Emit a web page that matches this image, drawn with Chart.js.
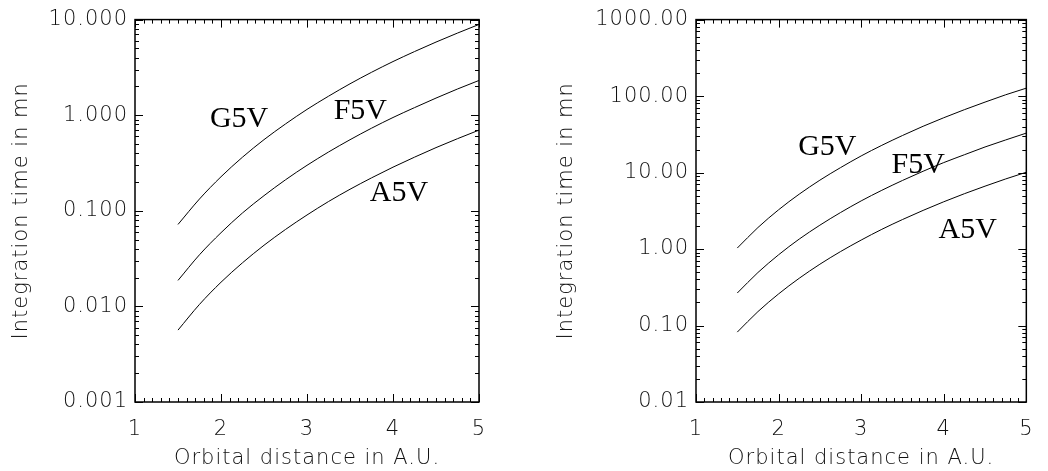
<!DOCTYPE html>
<html>
<head>
<meta charset="utf-8">
<script src="https://cdn.jsdelivr.net/npm/chart.js@4/dist/chart.umd.min.js"></script>
<style>
  html, body { margin: 0; padding: 0; background: #fff; }
  #wrap { position: relative; width: 1048px; height: 471px; }
  .panel { position: absolute; top: 0; height: 471px; }
  #leftBox { left: 0; width: 520px; }
  #rightBox { left: 520px; width: 528px; }
</style>
</head>
<body>
<div id="wrap">
  <div class="panel" id="leftBox"><canvas id="leftChart"></canvas></div>
  <div class="panel" id="rightBox"><canvas id="rightChart"></canvas></div>
</div>
<script>
// orbital distance (A.U.)
const distances = [1.5, 1.75, 2, 2.25, 2.5, 2.75, 3, 3.25, 3.5, 3.75, 4, 4.25, 4.5, 4.75, 5];

// left panel, integration time in mn
const leftG5V = [0.072, 0.133, 0.227, 0.364, 0.555, 0.81, 1.15, 1.58, 2.13, 2.81, 3.64, 4.63, 5.82, 7.23, 8.9];
const leftF5V = [0.0187, 0.0347, 0.059, 0.095, 0.144, 0.211, 0.299, 0.412, 0.554, 0.731, 0.946, 1.2, 1.51, 1.88, 2.31];
const leftA5V = [0.00565, 0.0105, 0.0179, 0.0286, 0.0436, 0.0638, 0.0904, 0.125, 0.168, 0.221, 0.286, 0.364, 0.458, 0.568, 0.698];

// right panel, integration time in mn
const rightG5V = [1.03, 1.91, 3.26, 5.22, 7.95, 11.6, 16.5, 22.7, 30.5, 40.3, 52.1, 66.4, 83.4, 104, 127];
const rightF5V = [0.266, 0.493, 0.841, 1.35, 2.05, 3.0, 4.26, 5.86, 7.88, 10.4, 13.5, 17.1, 21.6, 26.7, 32.8];
const rightA5V = [0.082, 0.152, 0.259, 0.415, 0.633, 0.926, 1.31, 1.81, 2.43, 3.2, 4.15, 5.29, 6.64, 8.25, 10.1];

// tick values
const xTicks = [1, 2, 3, 4, 5];
const leftYTicks = [0.001, 0.01, 0.1, 1, 10];
const rightYTicks = [0.01, 0.1, 1, 10, 100, 1000];

// curve labels and where they sit (data coords, centre of the text)
const starNames = ['G5V', 'F5V', 'A5V'];
const leftLabelX = [2.21, 3.62, 4.07];
const leftLabelY = [0.87, 1.05, 0.146];
const rightLabelX = [2.59, 3.69, 4.29];
const rightLabelY = [20.1, 11.9, 1.66];

const TEXT_COLOR = '#111';
const SANS = "'DejaVu Sans', sans-serif";

const frameAndTicks = {
    id: 'frameAndTicks',
    beforeDraw(chart) {
        chart.ctx.letterSpacing = '1px';
    },
    afterDraw(chart) {
        const ctx = chart.ctx;
        const area = chart.chartArea;
        const xs = chart.scales.x;
        const ys = chart.scales.y;
        ctx.save();
        ctx.letterSpacing = '0px';
        ctx.strokeStyle = '#000';
        ctx.lineWidth = 1;
        ctx.beginPath();
        // x ticks every 0.1, major at integers
        for (let i = 10; i <= 50; i++) {
            const px = Math.round(xs.getPixelForValue(i / 10)) + 0.5;
            const len = (i % 10 === 0) ? 8 : 4;
            ctx.moveTo(px, area.bottom);
            ctx.lineTo(px, area.bottom - len);
            ctx.moveTo(px, area.top);
            ctx.lineTo(px, area.top + len);
        }
        // y ticks, decades + minor 2..9
        const lo = Math.round(Math.log10(ys.min));
        const hi = Math.round(Math.log10(ys.max));
        for (let d = lo; d <= hi; d++) {
            for (let m = 1; m <= 9; m++) {
                const v = m * Math.pow(10, d);
                if (v > ys.max * 1.0001) break;
                const py = Math.round(ys.getPixelForValue(v)) + 0.5;
                const len = (m === 1) ? 8 : 4;
                ctx.moveTo(area.left, py);
                ctx.lineTo(area.left + len, py);
                ctx.moveTo(area.right, py);
                ctx.lineTo(area.right - len, py);
            }
        }
        ctx.stroke();
        ctx.lineWidth = 1.5;
        ctx.strokeRect(area.left, area.top, area.right - area.left, area.bottom - area.top);

        // star type labels
        const pos = chart.options.plugins.frameAndTicks;
        ctx.fillStyle = '#000';
        ctx.font = "30px 'Liberation Serif', 'Times New Roman', serif";
        ctx.textAlign = 'center';
        ctx.textBaseline = 'alphabetic';
        starNames.forEach((name, i) => {
            ctx.fillText(name, xs.getPixelForValue(pos.lx[i]), ys.getPixelForValue(pos.ly[i]) + 6);
        });
        ctx.restore();
    }
};

function makeChart(canvasId, g5v, f5v, a5v, yMin, yMax, yTickVals, digits, yWidth, rightPad, titlePad, lx, ly) {
    const series = [g5v, f5v, a5v];
    const ctx = document.getElementById(canvasId);
    return new Chart(ctx, {
        type: 'line',
        data: {
            datasets: series.map((vals, k) => ({
                label: starNames[k],
                data: distances.map((d, i) => ({ x: d, y: vals[i] })),
                borderColor: '#000',
                borderWidth: 1,
                pointRadius: 0,
                fill: false,
                cubicInterpolationMode: 'monotone'
            }))
        },
        options: {
            responsive: true,
            maintainAspectRatio: false,
            animation: false,
            devicePixelRatio: 1,
            layout: { padding: { top: 10, right: rightPad, left: 0, bottom: 0 } },
            plugins: {
                legend: { display: false },
                tooltip: { enabled: false },
                frameAndTicks: { lx: lx, ly: ly }
            },
            scales: {
                x: {
                    type: 'linear',
                    min: 1,
                    max: 5,
                    afterBuildTicks: (scale) => { scale.ticks = xTicks.map(v => ({ value: v })); },
                    afterFit: (scale) => { scale.height = 69; },
                    grid: { display: false, drawTicks: false },
                    border: { display: false },
                    ticks: {
                        color: TEXT_COLOR,
                        font: { family: SANS, size: 21, weight: '200' },
                        padding: 15,
                        maxRotation: 0,
                        callback: (v) => String(v)
                    },
                    title: {
                        display: true,
                        text: 'Orbital distance in A.U.',
                        color: TEXT_COLOR,
                        font: { family: SANS, size: 21, weight: '200' },
                        padding: { top: 0, bottom: 0 }
                    }
                },
                y: {
                    type: 'logarithmic',
                    min: yMin,
                    max: yMax,
                    afterBuildTicks: (scale) => { scale.ticks = yTickVals.map(v => ({ value: v })); },
                    afterFit: (scale) => { scale.width = yWidth; },
                    grid: { display: false, drawTicks: false },
                    border: { display: false },
                    ticks: {
                        color: TEXT_COLOR,
                        font: { family: SANS, size: 21, weight: '200' },
                        padding: 7,
                        callback: (v) => Number(v).toFixed(digits)
                    },
                    title: {
                        display: true,
                        text: 'Integration time in mn',
                        color: TEXT_COLOR,
                        font: { family: SANS, size: 21, weight: '200' },
                        padding: { top: titlePad, bottom: 0 }
                    }
                }
            }
        },
        plugins: [frameAndTicks]
    });
}

makeChart('leftChart', leftG5V, leftF5V, leftA5V, 0.001, 10, leftYTicks, 3, 135, 41, 9, leftLabelX, leftLabelY);
makeChart('rightChart', rightG5V, rightF5V, rightA5V, 0.01, 1000, rightYTicks, 2, 176, 16, 34, rightLabelX, rightLabelY);
</script>
</body>
</html>
